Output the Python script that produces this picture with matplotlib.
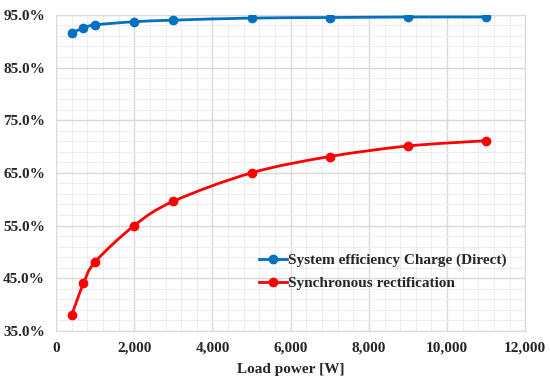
import numpy as np
import matplotlib.pyplot as plt
from matplotlib.path import Path
from matplotlib.patches import PathPatch
from matplotlib.lines import Line2D
from matplotlib.ticker import FuncFormatter, MultipleLocator

# Data
load_w = [400, 700, 1000, 2000, 3000, 5000, 7000, 9000, 11000]
eff_direct = [91.6, 92.5, 93.1, 93.7, 94.0, 94.4, 94.5, 94.6, 94.6]
eff_sync = [38.0, 44.0, 48.1, 55.0, 59.6, 65.0, 68.1, 70.1, 71.1]

labels = ["System efficiency Charge (Direct)", "Synchronous rectification"]
colors = ["#0070C0", "#FF0000"]
y_ticks = [35, 45, 55, 65, 75, 85, 95]


def smooth_path(x, y, t=1/6):
    # Excel-style smoothed line: cubic Bezier through the points
    pts = np.column_stack([x, y]).astype(float)
    verts = [pts[0]]
    codes = [Path.MOVETO]
    n = len(pts)
    for i in range(n - 1):
        p0 = pts[i - 1] if i > 0 else pts[i]
        p1 = pts[i]
        p2 = pts[i + 1]
        p3 = pts[i + 2] if i + 2 < n else pts[i + 1]
        c1 = p1 + (p2 - p0) * t
        c2 = p2 - (p3 - p1) * t
        verts += [c1, c2, p2]
        codes += [Path.CURVE4] * 3
    return Path(verts, codes)


plt.rcParams['font.family'] = ['Liberation Serif', 'DejaVu Serif']
fig = plt.figure(figsize=(5.5, 3.82), dpi=100)
ax = fig.add_axes([0.102, 0.134, 0.853, 0.827])

handles = []
for y, c, lab in zip([eff_direct, eff_sync], colors, labels):
    ax.add_patch(PathPatch(smooth_path(load_w, y), fill=False, edgecolor=c, lw=2, zorder=3))
    ax.plot(load_w, y, ls="none", marker="o", ms=6, color=c, zorder=4)
    handles.append(Line2D([], [], color=c, lw=2, marker="o", ms=6, label=lab))

ax.set_xlim(0, 12000)
ax.set_ylim(35, 95)
ax.xaxis.set_major_locator(MultipleLocator(2000))
ax.xaxis.set_minor_locator(MultipleLocator(400))
ax.set_yticks(y_ticks)
ax.yaxis.set_minor_locator(MultipleLocator(2, offset=1))
ax.xaxis.set_major_formatter(FuncFormatter(lambda v, p: f"{int(v):,}"))
ax.yaxis.set_major_formatter(FuncFormatter(lambda v, p: f"{v:.1f}%"))

ax.grid(which="major", color="#D9D9D9", lw=1)
ax.grid(which="minor", color="#EDEDED", lw=0.8)
ax.set_axisbelow(True)
ax.tick_params(which="both", length=0, labelsize=11, pad=8)
for lab in ax.get_xticklabels() + ax.get_yticklabels():
    lab.set_fontweight("bold")
    lab.set_color("#262626")
for s in ax.spines.values():
    s.set_color("#D9D9D9")

ax.set_xlabel("Load power [W]", fontsize=11, fontweight="bold", color="#262626", labelpad=6)

ax.legend(handles=handles, loc="lower right", bbox_to_anchor=(0.99, 0.085), frameon=False,
          prop={"size": 11, "weight": "bold"}, handlelength=1.8, handletextpad=0.1,
          labelcolor="#262626", labelspacing=0.6)

fig.savefig("out.png", dpi=100)
